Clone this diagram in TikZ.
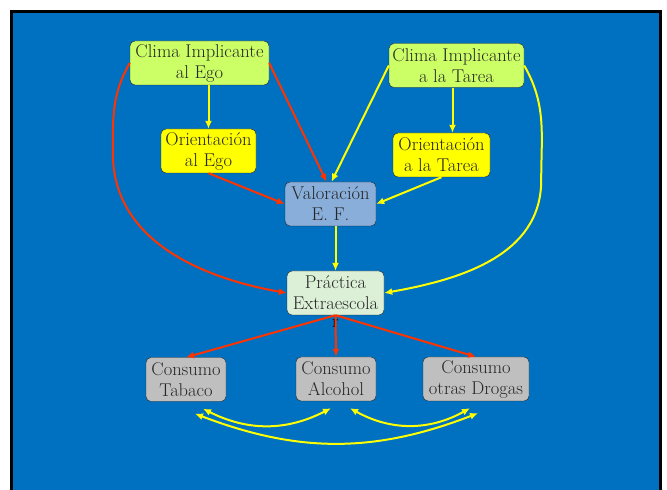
\documentclass[tikz,border=0pt]{standalone}
\usetikzlibrary{arrows.meta}
\tikzset{>={Latex[width=7pt,length=8pt]}}
\definecolor{fondo}{HTML}{0070C0}
\definecolor{verdeclaro}{HTML}{CCFF66}
\definecolor{amarillo}{HTML}{FFFF00}
\definecolor{azulclaro}{HTML}{88AED9}
\definecolor{verdepalido}{HTML}{DBF0D6}
\definecolor{gris}{HTML}{BFBFBF}
\definecolor{rojo}{HTML}{FF3300}
\tikzset{
  caja/.style={draw=black!85, rounded corners=5pt, align=center, inner sep=1pt,
    minimum height=44pt, text=black!85, font=\fontsize{18.5}{21}\selectfont},
  roja/.style={->, draw=rojo, line width=2pt},
  amar/.style={->, draw=amarillo, line width=2pt}
}

\begin{document}
\begin{tikzpicture}[x=1pt,y=1pt]

  \useasboundingbox (0,0) rectangle (667,490);
  \draw[fill=fondo, line width=3pt] (11.5,478.5) rectangle (660.5,-10);

  %% nodos
  \node[caja, fill=verdeclaro, minimum width=139pt] (climaego) at (199.5,427) {Clima Implicante\\al Ego};
  \node[caja, fill=verdeclaro, minimum width=135pt] (climatarea) at (456.5,424.5) {Clima Implicante\\a la Tarea};
  \node[caja, fill=amarillo, minimum width=95pt] (orienego) at (208.5,339) {Orientación\\al Ego};
  \node[caja, fill=amarillo, minimum width=97pt] (orientarea) at (441.5,335) {Orientación\\a la Tarea};
  \node[caja, fill=azulclaro, minimum width=91pt] (valoracion) at (330.5,286) {Valoración\\E. F.};
  \node[caja, fill=verdepalido, minimum width=97pt] (practica) at (335.5,197) {Práctica\\Extraescola};
  \node[text=black, font=\fontsize{18.5}{21}\selectfont, inner sep=0pt] (sufijo) at ([yshift=-8pt]practica.south) {r};

  \node[caja, fill=gris, minimum width=80pt] (tabaco) at (186,110.5) {Consumo\\Tabaco};
  \node[caja, fill=gris, minimum width=80pt] (alcohol) at (336,111) {Consumo\\Alcohol};
  \node[caja, fill=gris, minimum width=106pt] (drogas) at (476,111) {Consumo\\otras Drogas};

  %% ego
  \draw[amar] (orienego.north |- climaego.south) -- (orienego.north);
  \draw[roja] (climaego.east) -- ([xshift=-4pt]valoracion.north);
  \draw[roja] (orienego.south) -- (valoracion.west);
  \draw[roja] (climaego.west) to[out=-120,in=90] ++(-17,-90)
    to[out=-90,in=170] (practica.west);

  %% tarea
  \draw[amar] ([xshift=-4pt]climatarea.south) -- ([xshift=-4pt]climatarea.south |- orientarea.north);
  \draw[amar] (climatarea.west) -- ([xshift=1pt]valoracion.north);
  \draw[amar] (orientarea.south) -- (valoracion.east);
  \draw[amar] (climatarea.east) to[out=-60,in=90] ++(17,-115)
    to[out=-90,in=10] (practica.east);

  \draw[amar] (valoracion.south -| practica.north) -- (practica.north);

  %% consumos
  \draw[roja] (practica.south) -- (tabaco.north);
  \draw[roja] (practica.south) -- (alcohol.north);
  \draw[roja] (practica.south) -- (drogas.north);

  \draw[amar, <->] ([xshift=17pt,yshift=-7pt]tabaco.south) to[bend right=27]
    ([xshift=-5pt,yshift=-7pt]alcohol.south);
  \draw[amar, <->] ([xshift=14pt,yshift=-7pt]alcohol.south) to[bend right=29]
    ([xshift=-6pt,yshift=-7pt]drogas.south);
  \draw[amar, <->] ([xshift=9pt,yshift=-12pt]tabaco.south) to[bend right=21]
    ([xshift=2pt,yshift=-12pt]drogas.south);

\end{tikzpicture}
\end{document}
